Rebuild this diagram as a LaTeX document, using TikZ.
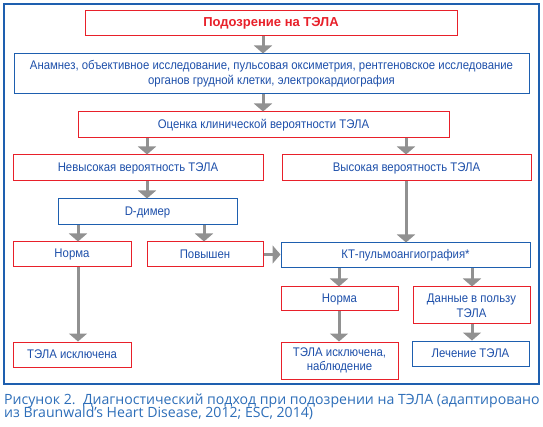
\documentclass[tikz,border=0pt]{standalone}
\usepackage{fontspec}
\setmainfont{Liberation Sans}
\newfontfamily\boxfont[FakeStretch=0.91]{Liberation Sans}
\newfontfamily\capfont{Open Sans}
\usetikzlibrary{arrows.meta}
\definecolor{rd}{RGB}{232,32,42}
\definecolor{bl}{RGB}{30,95,175}
\definecolor{tx}{RGB}{30,80,170}
\definecolor{gr}{RGB}{145,145,145}
\definecolor{capc}{RGB}{45,110,185}
\begin{document}
\begin{tikzpicture}[x=1pt,y=-1pt,
  box/.style={draw, line width=1pt, inner sep=0pt, align=center,
    font=\boxfont\fontsize{12.5}{14.6}\selectfont, text=tx},
  rbox/.style={box, draw=rd},
  bbox/.style={box, draw=bl},
  arr/.style={draw=gr, line width=3pt, -{Triangle[width=18pt,length=8pt]}},
  captext/.style={anchor=base west, inner sep=0pt, text=capc,
    font=\capfont\fontsize{14.1}{13.3}\selectfont}]
\useasboundingbox (0,0) rectangle (543,427);
\fill[white] (0,0) rectangle (543,427);
\draw[bl, line width=1.2pt] (4,4) rectangle (539,384);

\coordinate (cA) at (78,0);
\coordinate (cB) at (147,0);
\coordinate (cC) at (204,0);
\coordinate (cM) at (263,0);
\coordinate (cD) at (339,0);
\coordinate (cE) at (406,0);
\coordinate (cF) at (472,0);

\node[rbox, minimum width=372pt, minimum height=25pt, text=rd,
  font=\bfseries\fontsize{13}{15}\selectfont] (top) at (271,23.5) {Подозрение на ТЭЛА};
\node[bbox, minimum width=515pt, minimum height=40pt] (anam) at (271.5,74)
  {Анамнез, объективное исследование, пульсовая оксиметрия, рентгеновское исследование\\органов грудной клетки, электрокардиография};
\node[rbox, minimum width=371pt, minimum height=26pt] (ocen) at (263.5,125) {Оценка клинической вероятности ТЭЛА};
\node[rbox, minimum width=250pt, minimum height=26pt] (nevys) at (138,168) {Невысокая вероятность ТЭЛА};
\node[rbox, minimum width=249pt, minimum height=26pt] (vys) at (406.5,168) {Высокая вероятность ТЭЛА};
\node[bbox, minimum width=179pt, minimum height=26pt] (dim) at (147.5,212) {D-димер};
\node[rbox, minimum width=118pt, minimum height=25pt] (normL) at (72,254.5) {Норма};
\node[rbox, minimum width=116pt, minimum height=25pt] (pov) at (205,254.5) {Повышен};
\node[bbox, minimum width=249pt, minimum height=25pt] (kt) at (405.5,255.5) {КТ-пульмоангиография*};
\node[rbox, minimum width=117pt, minimum height=24pt] (normR) at (339.5,299) {Норма};
\node[rbox, minimum width=117pt, minimum height=37pt] (dan) at (471.5,305.5) {Данные в пользу\\ТЭЛА};
\node[rbox, minimum width=118pt, minimum height=25pt] (iskl) at (72,354.5) {ТЭЛА исключена};
\node[rbox, minimum width=117pt, minimum height=37pt] (nabl) at (339.5,360.5) {ТЭЛА исключена,\\наблюдение};
\node[bbox, minimum width=117pt, minimum height=25pt] (lech) at (470.5,353.5) {Лечение ТЭЛА};

\draw[arr] (top.south -| cM) -- (anam.north -| cM);
\draw[arr] (anam.south -| cM) -- (ocen.north -| cM);
\draw[arr] (ocen.south -| cB) -- (nevys.north -| cB);
\draw[arr] (ocen.south -| cE) -- (vys.north -| cE);
\draw[arr] (nevys.south -| cB) -- (dim.north -| cB);
\draw[arr] (dim.south -| cA) -- (normL.north -| cA);
\draw[arr] (dim.south -| cC) -- (pov.north -| cC);
\draw[arr] (pov.east) -- (kt.west |- pov.east);
\draw[arr] (vys.south -| cE) -- (kt.north -| cE);
\draw[arr] (kt.south -| cD) -- (normR.north -| cD);
\draw[arr] (kt.south -| cF) -- (dan.north -| cF);
\draw[arr] (normL.south -| cA) -- (iskl.north -| cA);
\draw[arr] (normR.south -| cD) -- (nabl.north -| cD);
\draw[arr] (dan.south -| cF) -- (lech.north -| cF);

\node[captext] (cap1) at (4,404) {Рисунок 2.\ \ Диагностический подход при подозрении на ТЭЛА (адаптировано};
\node[captext] (cap2) at (4,417.3) {из Braunwald’s Heart Disease, 2012; ESC, 2014)};
\end{tikzpicture}
\end{document}
